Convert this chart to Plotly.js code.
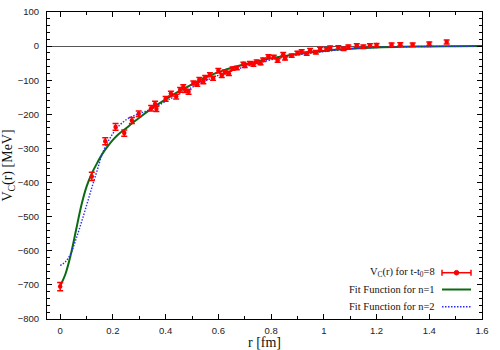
<!DOCTYPE html>
<html><head><meta charset="utf-8">
<script src="https://cdn.plot.ly/plotly-3.0.1.min.js"></script>
<style>html,body{margin:0;padding:0;background:#fff}#chart{width:500px;height:350px}</style>
</head><body><div id="chart"></div>
<script>
// lattice data: r [fm], V_C(r) [MeV], error
const dataR = [0.0, 0.12, 0.171, 0.21, 0.243, 0.272, 0.298, 0.345, 0.36, 0.365, 0.40, 0.42, 0.44, 0.455, 0.467, 0.474, 0.487, 0.505, 0.52, 0.528, 0.543, 0.55, 0.568, 0.58, 0.60, 0.613, 0.625, 0.64, 0.654, 0.67, 0.695, 0.70, 0.72, 0.733, 0.745, 0.76, 0.77, 0.79, 0.81, 0.825, 0.846, 0.853, 0.878, 0.90, 0.916, 0.935, 0.948, 0.97, 0.986, 1.01, 1.024, 1.055, 1.075, 1.093, 1.125, 1.15, 1.175, 1.2, 1.257, 1.29, 1.337, 1.4, 1.466];
const dataV = [-705, -382, -279, -237, -255, -218, -198, -182, -170, -184, -155, -139, -148, -128, -120, -129, -134, -108, -112, -98, -104, -92, -84, -94, -72, -86, -76, -80, -66, -64, -52, -58, -50, -54, -46, -50, -40, -30, -32, -42, -24, -36, -28, -20, -16, -22, -12, -18, -8, -10, -5, -4, -8, -2, 2, -2, 2, 3, 4, 5, 4, 7, 12];
const dataErr = [12, 12, 10, 10, 9, 9, 8, 8, 8, 8, 7, 7, 7, 7, 7, 7, 7, 6, 6, 6, 6, 6, 6, 6, 6, 6, 6, 6, 5, 5, 5, 5, 5, 5, 5, 5, 5, 5, 5, 5, 5, 5, 5, 5, 5, 5, 5, 5, 5, 5, 5, 5, 5, 5, 5, 5, 5, 5, 5, 5, 5, 5, 6];

// fit n=1
const fit1R = [0, 0.02, 0.04, 0.06, 0.08, 0.10, 0.12, 0.14, 0.16, 0.18, 0.20, 0.22, 0.25, 0.28, 0.31, 0.34, 0.37, 0.40, 0.45, 0.50, 0.556, 0.62, 0.682, 0.75, 0.8, 0.9, 1.0, 1.1, 1.2, 1.3, 1.4, 1.5, 1.6];
const fit1V = [-703, -668, -612, -540, -468, -412, -373, -343, -316, -294, -275, -259, -241, -222, -204, -187, -171, -156, -133, -112, -90, -71, -57, -44, -36, -23, -14, -8, -4, -2, -1, -0.5, 0];

// fit n=2
const fit2R = [0, 0.02, 0.04, 0.06, 0.08, 0.10, 0.12, 0.14, 0.16, 0.18, 0.20, 0.22, 0.25, 0.28, 0.31, 0.34, 0.37, 0.40, 0.43, 0.5, 0.556, 0.62, 0.682, 0.75, 0.8, 0.9, 1.0, 1.1, 1.2, 1.3, 1.4, 1.5, 1.6];
const fit2V = [-643, -632, -608, -566, -518, -467, -415, -365, -315, -282, -256, -236, -216, -204, -195, -186, -175, -162, -149, -121, -100, -80, -65, -50, -40, -26, -16, -8, -4, -2, -1, -0.5, 0];

const legendTexts = ['V<sub>C</sub>(r) for t-t<sub>0</sub>=8', 'Fit Function for n=1', 'Fit Function for n=2'];
const xTitle = 'r [fm]';
const yTitle = 'V<sub>C</sub>(r) [MeV]';

const RED = '#ff0000', GREEN = '#0a6b12', BLUE = '#2a2aff';

const traces = [
  {x: fit1R, y: fit1V, type: 'scatter', mode: 'lines', line: {color: GREEN, width: 2, shape: 'spline', smoothing: 1}, showlegend: false},
  {x: fit2R, y: fit2V, type: 'scatter', mode: 'lines', line: {color: BLUE, width: 1.4, dash: '1.5px,1.5px', shape: 'spline', smoothing: 1}, showlegend: false},
  {x: dataR, y: dataV, type: 'scatter', mode: 'markers',
   marker: {color: RED, size: 4.5, symbol: 'circle'},
   error_y: {type: 'data', array: dataErr, visible: true, color: RED, thickness: 1.5, width: 3},
   showlegend: false}
];

// plot area in pixels: left 47, right 482, top 12, bottom 319
const L = 47, R = 482, T = 12, B = 319;
const fx = px => (px - L) / (R - L);
const fy = py => (B - py) / (B - T);

const legY = [272.7, 289.5, 306.7];
const textRight = 437, sx0 = 442, sx1 = 471;

const annotations = legendTexts.map((t, i) => ({
  xref: 'paper', yref: 'paper', x: fx(textRight), y: fy(legY[i]), xanchor: 'right', yanchor: 'middle',
  text: t, showarrow: false, font: {family: 'Liberation Serif, Times New Roman, serif', size: 10.5, color: '#111'}
}));

const shapes = [
  {type: 'line', xref: 'paper', yref: 'paper', x0: fx(sx0), x1: fx(sx1), y0: fy(legY[0]), y1: fy(legY[0]), line: {color: RED, width: 1.5}},
  {type: 'line', xref: 'paper', yref: 'paper', x0: fx(sx0), x1: fx(sx0), y0: fy(legY[0] - 3), y1: fy(legY[0] + 3), line: {color: RED, width: 1.5}},
  {type: 'line', xref: 'paper', yref: 'paper', x0: fx(sx1), x1: fx(sx1), y0: fy(legY[0] - 3), y1: fy(legY[0] + 3), line: {color: RED, width: 1.5}},
  {type: 'circle', xref: 'paper', yref: 'paper', x0: fx(456.5 - 2.3), x1: fx(456.5 + 2.3), y0: fy(legY[0] - 2.3), y1: fy(legY[0] + 2.3), fillcolor: RED, line: {color: RED, width: 1}},
  {type: 'line', xref: 'paper', yref: 'paper', x0: fx(sx0), x1: fx(sx1), y0: fy(legY[1]), y1: fy(legY[1]), line: {color: GREEN, width: 2}},
  {type: 'line', xref: 'paper', yref: 'paper', x0: fx(sx0), x1: fx(sx1), y0: fy(legY[2]), y1: fy(legY[2]), line: {color: BLUE, width: 1.4, dash: '1.5px,1.5px'}}
];

const tickFont = {family: 'Liberation Sans, Arial, sans-serif', size: 9.5, color: '#222'};
const titleFont = {family: 'Liberation Serif, Times New Roman, serif', size: 14, color: '#111'};

const layout = {
  width: 500, height: 350,
  margin: {l: L, r: 500 - R, t: T, b: 350 - B},
  paper_bgcolor: '#fff', plot_bgcolor: '#fff',
  showlegend: false,
  xaxis: {
    range: [-0.05, 1.6], tickvals: [0, 0.2, 0.4, 0.6, 0.8, 1, 1.2, 1.4, 1.6],
    ticktext: ['0', '0.2', '0.4', '0.6', '0.8', '1', '1.2', '1.4', '1.6'],
    ticks: 'inside', ticklen: 5, tickcolor: '#000', tickwidth: 1,
    minor: {tickvals: [0.1, 0.3, 0.5, 0.7, 0.9, 1.1, 1.3, 1.5], ticks: 'inside', ticklen: 3, tickcolor: '#000', showgrid: false},
    showline: true, linecolor: '#000', linewidth: 1, mirror: 'allticks',
    showgrid: false, zeroline: false, tickfont: tickFont, ticklabelstandoff: 3,
    title: {text: xTitle, font: titleFont, standoff: 1}, automargin: false
  },
  yaxis: {
    range: [-800, 100], dtick: 100, tick0: 0,
    ticks: 'inside', ticklen: 5, tickcolor: '#000', tickwidth: 1,
    minor: {dtick: 20, ticks: 'inside', ticklen: 3, tickcolor: '#000', showgrid: false},
    showline: true, linecolor: '#000', linewidth: 1, mirror: 'allticks',
    showgrid: false, zeroline: true, zerolinecolor: '#555', zerolinewidth: 1,
    tickfont: tickFont, ticklabelstandoff: 5,
    title: {text: yTitle, font: titleFont, standoff: 4}, automargin: false
  },
  annotations: annotations,
  shapes: shapes
};

Plotly.newPlot('chart', traces, layout, {staticPlot: true, displayModeBar: false});
</script></body></html>
